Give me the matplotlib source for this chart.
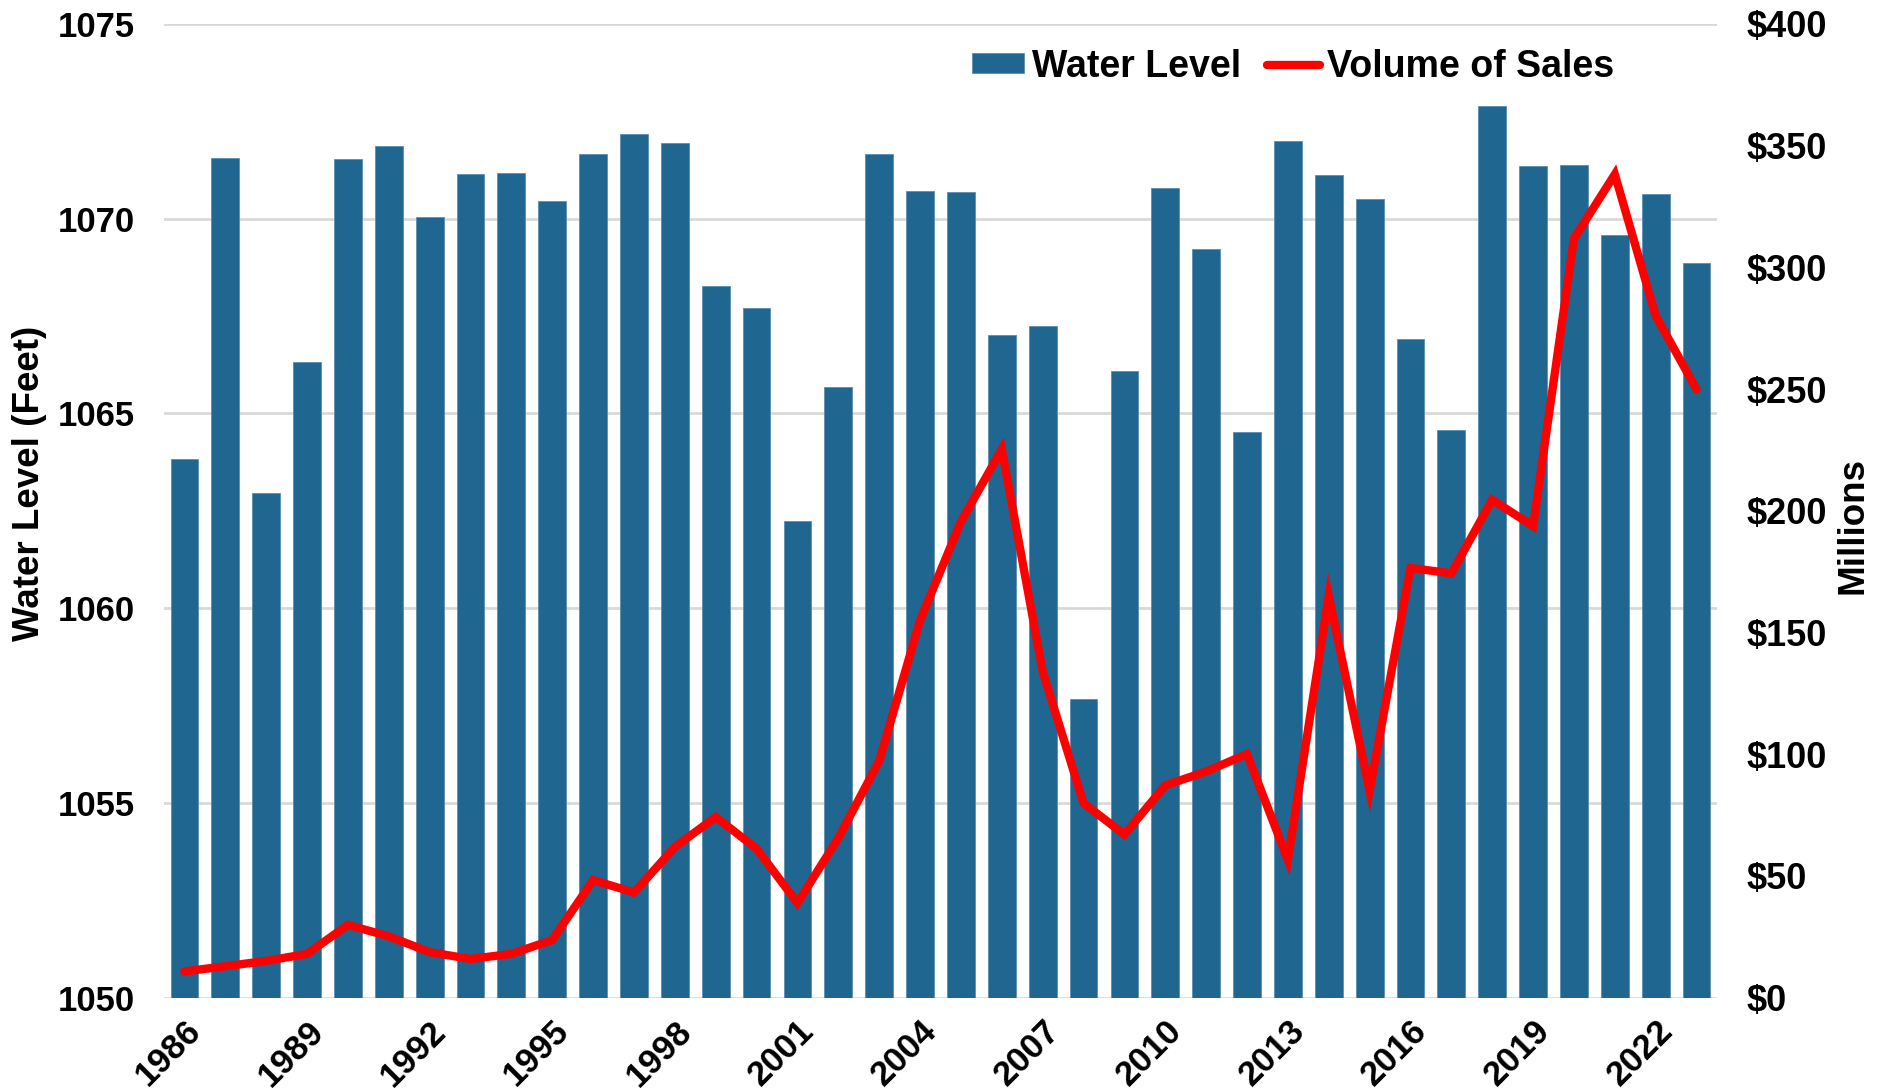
import matplotlib
matplotlib.use("Agg")
import matplotlib.pyplot as plt
import numpy as np
from matplotlib.ticker import FuncFormatter, MultipleLocator

years = list(range(1986, 2024))

water_level = [1063.83, 1071.56, 1062.96, 1066.32, 1071.52, 1071.86, 1070.03, 1071.14,
               1071.16, 1070.45, 1071.65, 1072.16, 1071.94, 1068.27, 1067.71, 1062.23,
               1065.67, 1071.66, 1070.72, 1070.68, 1067.01, 1067.25, 1057.68, 1066.08,
               1070.78, 1069.21, 1064.51, 1071.99, 1071.12, 1070.50, 1066.90, 1064.58,
               1072.88, 1071.35, 1071.37, 1069.59, 1070.63, 1068.87]

sales = [10.8, 12.9, 15.1, 18.0, 29.9, 25.2, 18.7, 15.9, 18.0, 23.7, 48.3, 43.2,
         61.9, 74.2, 61.2, 38.9, 65.6, 97.2, 155.0, 195.5, 225.3, 134.0, 79.9, 67.0,
         87.2, 92.9, 100.1, 56.6, 165.0, 85.0, 176.5, 174.3, 204.5, 193.7, 311.8,
         338.2, 280.1, 249.9]

bar_color = "#1F6690"
line_color = "#FF0000"
grid_color = "#D9D9D9"

plt.rcParams['font.family'] = ['Liberation Sans', 'DejaVu Sans']
plt.rcParams['font.weight'] = 'bold'

fig = plt.figure(figsize=(18.81, 10.90), dpi=100)
ax = fig.add_axes([0.0872, 0.0847, 0.8256, 0.8934])
x = np.arange(len(years))

ax.bar(x, np.array(water_level) - 1050, bottom=1050, width=0.68, color=bar_color,
       edgecolor="#5B8FB0", linewidth=0.6, label="Water Level", zorder=2)
ax.set_ylim(1050, 1075)
ax.set_xlim(-0.5, len(years) - 0.5)
ax.yaxis.set_major_locator(MultipleLocator(5))
ax.grid(axis='y', color=grid_color, linewidth=2, zorder=0)
ax.set_axisbelow(True)
for s in ax.spines.values():
    s.set_visible(False)
ax.tick_params(axis='y', length=0, labelsize=25, pad=21)
ax.tick_params(axis='x', length=0, pad=12)

ticks = x[::3]
ax.set_xticks(ticks)
ax.set_xticklabels([str(years[i]) for i in ticks], rotation=45, ha='right',
                   rotation_mode='anchor', fontsize=25, fontweight='bold')
ax.set_ylabel("Water Level (Feet)", fontsize=26.5, fontweight='bold')
ax.yaxis.set_label_coords(-0.0753, 0.5286)

ax2 = ax.twinx()
ax2.plot(x, sales, color=line_color, linewidth=6, solid_capstyle='round',
         solid_joinstyle='miter', label="Volume of Sales", zorder=3)
ax2.set_ylim(0, 400)
ax2.yaxis.set_major_locator(MultipleLocator(50))
ax2.yaxis.set_major_formatter(FuncFormatter(lambda v, p: "${:,.0f}".format(v)))
for s in ax2.spines.values():
    s.set_visible(False)
ax2.tick_params(length=0, labelsize=26, pad=21)
ax2.set_ylabel("Millions", fontsize=26.5, fontweight='bold')
ax2.yaxis.set_label_coords(1.076, 0.485)

h1, l1 = ax.get_legend_handles_labels()
h2, l2 = ax2.get_legend_handles_labels()
leg = ax2.legend(h1 + h2, l1 + l2, loc='center right', bbox_to_anchor=(0.934, 0.956),
                 ncol=2, frameon=False, fontsize=27, handlelength=1.4,
                 handleheight=0.45, handletextpad=0.2, columnspacing=0.7,
                 borderpad=0, borderaxespad=0)
for t in leg.get_texts():
    t.set_fontweight('bold')

fig.savefig("out.png", dpi=100)
